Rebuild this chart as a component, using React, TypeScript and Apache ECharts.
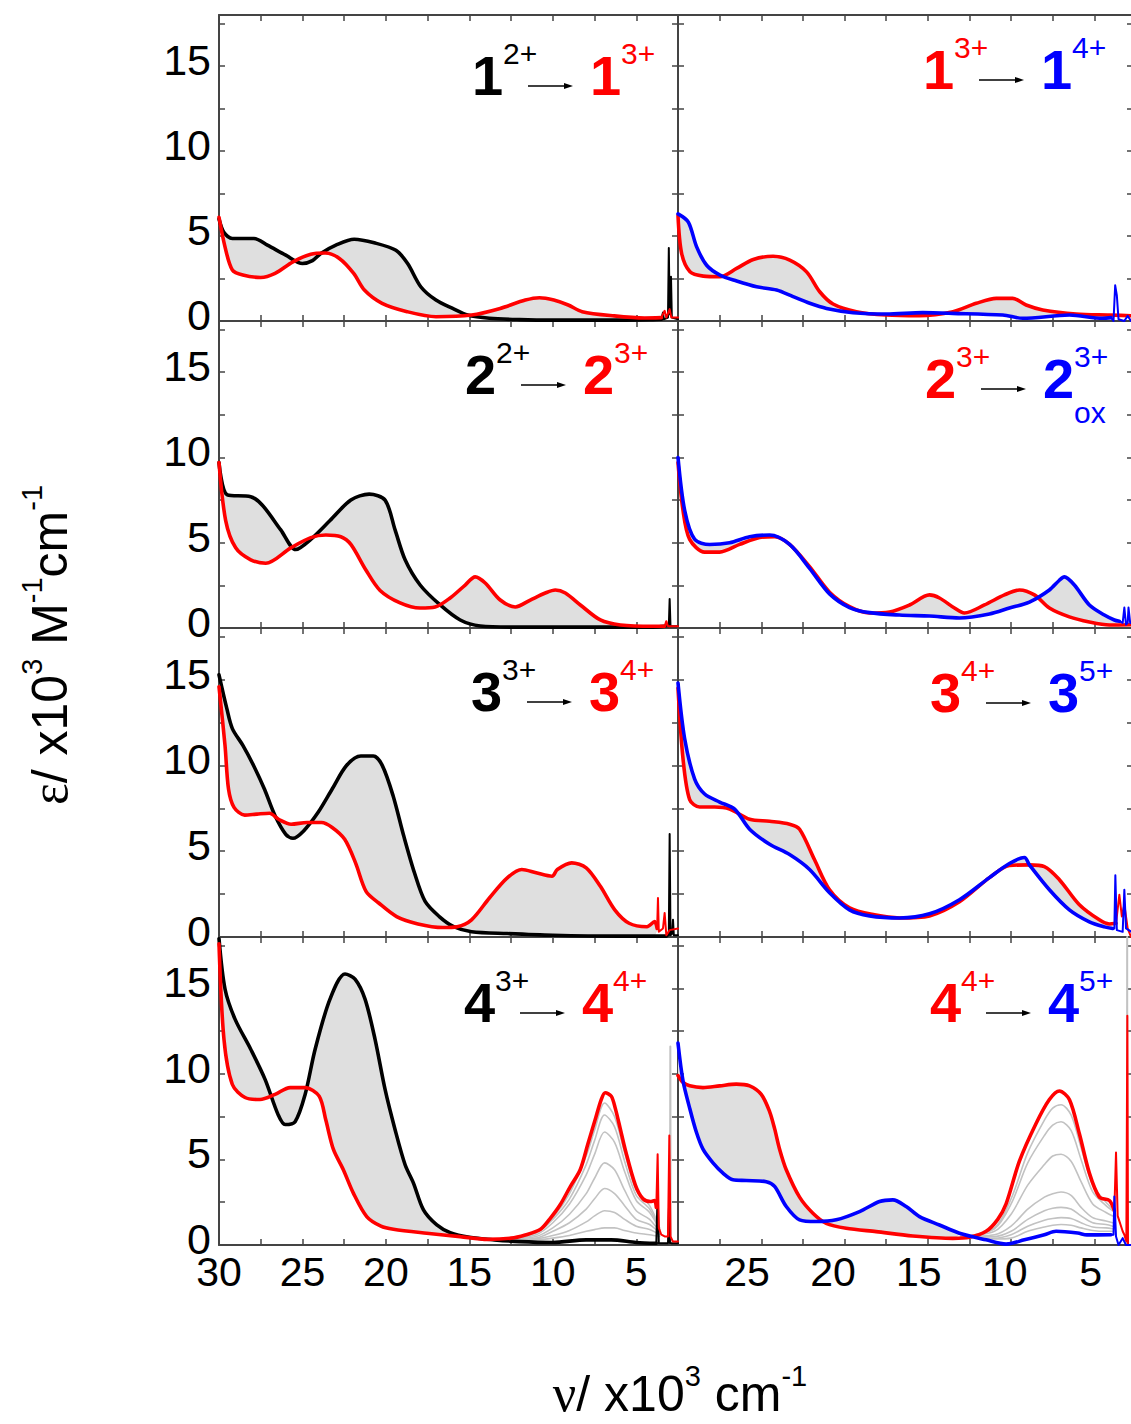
import { useEffect, useRef } from 'react';
import * as echarts from 'echarts';

type P = [number, number];

// ---------- Panel 1: 1(2+) black -> 1(3+) red ----------
const p1Start: P[] = [[30,6.0],[29.7,5.2],[29.2,4.85],[28.5,4.85],[27.9,4.85],[27.1,4.46],[26.0,3.87],[25.0,3.38],[24.4,3.55],[23.9,3.97],[23.0,4.46],[21.9,4.81],[20.7,4.6],[19.4,4.16],[18.7,3.38],[17.9,2.0],[17.0,1.23],[16.0,0.74],[15.1,0.35],[13.8,0.16],[12.0,0.08],[10.0,0.05],[8.0,0.05],[6.0,0.05],[4.0,0.08],[3.5,0.1]];
const p1StartTail: P[] = [[3.5,0.1],[3.4,0.5],[3.35,0.1],[3.1,0.2],[3.05,4.3],[3.0,0.4],[2.92,2.6],[2.87,0.2],[2.5,0.1]];
const p1End: P[] = [[30,6.1],[29.64,4.36],[29.2,3.0],[28.57,2.7],[27.5,2.56],[26.64,2.8],[25.57,3.48],[24.5,3.93],[23.64,4.0],[22.79,3.68],[21.93,2.8],[21.29,1.82],[20.23,1.04],[18.73,0.55],[17.0,0.25],[14.87,0.35],[13.15,0.74],[11.65,1.23],[10.8,1.37],[9.94,1.23],[9.08,0.94],[8.24,0.55],[6.32,0.3],[4.5,0.18],[3.5,0.2]];
const p1EndTail: P[] = [[3.5,0.2],[3.3,0.6],[3.2,0.2],[3.0,0.7],[2.9,0.2],[2.5,0.2]];

// ---------- Panel 2: 1(3+) red -> 1(4+) blue ----------
const p2Start: P[] = [[30,6.2],[29.78,3.97],[29.28,2.9],[28.48,2.64],[27.48,2.6],[26.48,3.09],[25.48,3.62],[24.29,3.81],[23.29,3.58],[22.28,2.89],[21.49,1.72],[20.69,1.0],[19.29,0.55],[17.49,0.35],[15.5,0.31],[13.49,0.55],[12.09,1.04],[10.89,1.33],[9.9,1.33],[9.1,0.94],[8.1,0.65],[6.1,0.41],[4.1,0.35],[2.5,0.3]];
const p2StartTail: P[] = [];
const p2End: P[] = [[30,6.3],[29.38,5.82],[28.88,4.36],[28.28,3.28],[27.48,2.7],[26.48,2.35],[25.28,2.01],[24.08,1.82],[23.09,1.43],[22.09,1.04],[21.08,0.74],[19.49,0.49],[17.49,0.41],[15.3,0.49],[13.5,0.45],[10.5,0.35],[9.3,0.16],[6.5,0.35],[4.5,0.16],[4.0,0.2]];
const p2EndTail: P[] = [[4.0,0.2],[3.85,0.0],[3.75,2.1],[3.65,1.5],[3.55,0.1],[3.2,0.0],[3.0,0.3],[2.8,0.0],[2.6,0.1]];

// ---------- Panel 3: 2(2+) black -> 2(3+) red ----------
const p3Start: P[] = [[30,9.7],[29.5,7.8],[28.1,7.7],[27.4,7.2],[26.3,5.75],[25.4,4.6],[24.5,5.2],[23.35,6.3],[22.1,7.5],[21.0,7.85],[20.05,7.5],[19.45,5.75],[18.85,4.0],[17.95,2.52],[16.75,1.35],[15.55,0.47],[14.35,0.12],[12.0,0.05],[8.0,0.05],[4.0,0.05],[3.3,0.1]];
const p3StartTail: P[] = [[3.3,0.1],[3.05,0.1],[3.0,1.7],[2.95,0.1],[2.5,0.1]];
const p3End: P[] = [[30,9.7],[29.6,6.3],[29.0,4.7],[28.1,4.0],[27.2,3.8],[25.7,4.7],[24.5,5.3],[23.6,5.45],[22.7,5.35],[22.1,4.9],[21.2,3.4],[20.35,2.2],[19.15,1.47],[17.95,1.17],[17.05,1.23],[16.15,1.76],[15.25,2.52],[14.65,3.0],[14.05,2.64],[13.15,1.64],[12.25,1.23],[11.35,1.64],[10.45,2.05],[9.85,2.23],[9.25,2.05],[8.35,1.35],[7.15,0.47],[5.95,0.18],[4.0,0.1],[3.3,0.1]];
const p3EndTail: P[] = [[3.3,0.1],[3.2,0.4],[3.1,0.1],[2.5,0.1]];

// ---------- Panel 4: 2(3+) red -> 2ox(3+) blue ----------
const p4Start: P[] = [[30,9.7],[29.7,6.9],[29.3,5.2],[28.4,4.45],[27.5,4.45],[26.3,4.9],[25.1,5.3],[24.2,5.35],[23.3,4.9],[22.1,3.6],[20.9,2.1],[19.7,1.25],[18.5,0.88],[17.3,0.94],[16.1,1.35],[14.9,1.94],[14.3,1.76],[13.4,1.17],[12.8,0.88],[11.6,1.35],[10.4,1.94],[9.5,2.23],[8.6,1.94],[7.7,1.17],[6.5,0.65],[5.3,0.35],[4.1,0.18],[2.5,0.2]];
const p4StartTail: P[] = [];
const p4End: P[] = [[30,10.0],[29.6,6.9],[29.0,5.2],[28.1,4.9],[26.9,5.0],[25.7,5.35],[24.5,5.45],[23.3,4.9],[22.1,3.5],[20.9,2.0],[19.7,1.2],[18.5,0.9],[16.7,0.76],[14.9,0.7],[13.1,0.59],[11.3,0.82],[10.1,1.17],[8.9,1.52],[7.7,2.23],[7.1,2.8],[6.8,3.0],[6.2,2.52],[5.3,1.35],[4.4,0.76],[3.8,0.47],[3.5,0.4]];
const p4EndTail: P[] = [[3.5,0.4],[3.3,0.3],[3.2,1.2],[3.1,0.2],[3.0,0.3],[2.95,1.2],[2.85,0.3],[2.6,0.2]];

// ---------- Panel 5: 3(3+) black -> 3(4+) red ----------
const p5Start: P[] = [[30,15.27],[29.53,13.3],[29.2,12.14],[28.57,11.16],[27.93,9.99],[27.28,8.62],[26.64,7.06],[26.0,5.98],[25.57,5.75],[24.93,6.18],[24.07,7.25],[23.22,8.62],[22.36,9.99],[21.5,10.54],[20.75,10.54],[20.22,10.0],[19.57,8.23],[18.93,5.88],[18.29,3.74],[17.65,2.07],[16.8,1.19],[15.94,0.6],[14.87,0.31],[12.73,0.2],[10.0,0.1],[6.0,0.05],[4.0,0.05],[3.2,0.05]];
const p5StartTail: P[] = [[3.2,0.05],[3.05,0.1],[3.0,6.0],[2.95,0.1],[2.85,0.2],[2.8,1.0],[2.75,0.1],[2.5,0.1]];
const p5End: P[] = [[30,14.58],[29.64,11.16],[29.43,8.62],[29.1,7.55],[28.46,7.1],[27.72,7.16],[26.97,7.21],[26.43,6.86],[25.68,6.57],[24.72,6.67],[23.86,6.67],[23.22,6.38],[22.47,5.69],[21.82,4.32],[21.19,2.66],[20.43,1.98],[19.36,1.19],[18.08,0.76],[16.58,0.55],[15.73,0.6],[14.87,1.0],[13.8,2.27],[12.73,3.44],[11.86,3.93],[11.0,3.74],[10.05,3.54],[9.73,3.93],[8.87,4.32],[8.0,4.03],[7.15,2.95],[6.29,1.58],[5.43,0.8],[4.36,0.6],[3.9,0.9],[3.75,0.5]];
const p5EndTail: P[] = [[3.75,0.5],[3.7,2.27],[3.65,0.3],[3.4,0.5],[3.3,1.4],[3.2,0.1],[3.0,0.4],[2.5,0.5]];

// ---------- Panel 6: 3(4+) red -> 3(5+) blue ----------
const p6Start: P[] = [[30,14.5],[29.7,10.4],[29.3,8.0],[28.7,7.57],[27.8,7.57],[26.9,7.45],[25.7,6.86],[24.5,6.74],[23.3,6.57],[22.7,6.28],[21.8,4.5],[20.9,2.75],[19.7,1.7],[18.2,1.29],[16.7,1.11],[14.9,1.23],[13.1,2.05],[11.3,3.46],[10.1,4.16],[8.9,4.2],[8.0,4.1],[7.1,3.34],[5.9,1.88],[4.7,1.0],[4.1,0.76],[3.7,0.8]];
const p6StartTail: P[] = [[3.7,0.8],[3.5,2.46],[3.35,1.2],[3.2,1.88],[3.0,0.5],[2.8,0.0],[2.6,0.0]];
const p6End: P[] = [[30,14.8],[29.6,11.55],[29.0,9.2],[28.4,8.33],[27.5,7.86],[26.6,7.45],[25.7,6.28],[24.5,5.4],[23.3,4.8],[22.1,3.93],[20.9,2.58],[19.7,1.58],[18.5,1.23],[16.7,1.11],[14.9,1.35],[13.1,2.17],[11.3,3.46],[10.1,4.28],[9.2,4.63],[8.9,4.2],[7.7,2.75],[6.5,1.58],[5.3,0.88],[4.4,0.59],[3.9,0.5]];
const p6EndTail: P[] = [[3.9,0.5],[3.8,0.5],[3.74,3.6],[3.65,0.4],[3.3,0.3],[3.2,2.75],[3.1,0.5],[2.6,0.2]];

// ---------- Panel 7: 4(3+) black -> 4(4+) red ----------
const p7Start: P[] = [[30,17.9],[29.64,14.96],[29.04,13.2],[28.1,11.44],[27.24,9.68],[26.46,7.62],[26.04,7.04],[25.44,7.21],[24.84,8.8],[24.24,11.44],[23.35,14.37],[22.45,15.84],[21.85,15.54],[21.25,14.37],[20.65,12.02],[20.05,9.09],[19.45,6.74],[18.85,4.69],[18.35,3.62],[17.75,2.05],[16.95,1.17],[16.15,0.72],[15.0,0.45],[13.5,0.3],[12.0,0.2],[10.0,0.15],[8.0,0.3],[6.5,0.3],[5.0,0.15],[3.8,0.1]];
const p7StartTail: P[] = [[3.8,0.1],[3.72,3.0],[3.65,0.1],[3.1,0.1],[3.04,2.2],[2.98,0.1],[2.5,0.1]];
const p7End: P[] = [[30,17.6],[29.7,12.0],[29.2,9.38],[28.44,8.62],[27.54,8.5],[26.64,8.8],[25.74,9.2],[24.84,9.2],[24.0,8.7],[23.6,7.3],[23.15,5.6],[22.55,4.4],[21.95,3.03],[21.15,1.66],[20.3,1.1],[19.55,0.92],[17.55,0.69],[15.55,0.49],[13.9,0.33],[12.5,0.4],[11.65,0.59],[10.76,0.9],[10.2,1.5],[9.56,2.35],[8.96,3.4],[8.36,4.4],[7.9,5.9],[7.46,7.33],[7.1,8.5],[6.86,8.9],[6.5,8.7],[6.26,8.0],[5.96,6.8],[5.66,5.57],[5.06,3.52],[4.6,2.7],[4.16,2.54],[3.9,2.6],[3.8,2.2]];
const p7EndTail: P[] = [[3.8,2.2],[3.72,5.3],[3.65,1.0],[3.5,0.6],[3.3,0.5],[3.1,0.5],[3.02,6.4],[2.95,0.5],[2.8,0.2],[2.5,0.2]];
const grayX7 = [13, 11, 10, 9, 8, 7.5, 6.9, 6.3, 5.7, 5.0, 4.2, 3.6];
const p7Gray1 = [0.35, 0.75, 1.6, 3.0, 5.2, 6.7, 8.3, 7.5, 5.4, 3.2, 2.3, 1.0];
const p7Gray2 = [0.35, 0.7, 1.5, 2.7, 4.7, 6.1, 7.6, 6.9, 4.9, 2.9, 2.1, 0.9];
const p7Gray3 = [0.3, 0.6, 1.3, 2.4, 4.1, 5.3, 6.6, 6.0, 4.3, 2.6, 1.9, 0.9];
const p7Gray4 = [0.3, 0.5, 1.0, 1.8, 3.0, 3.9, 4.8, 4.4, 3.2, 2.0, 1.5, 0.8];
const p7Gray5 = [0.3, 0.4, 0.8, 1.3, 2.1, 2.7, 3.3, 3.0, 2.3, 1.5, 1.2, 0.7];
const p7Gray6 = [0.25, 0.35, 0.55, 0.85, 1.35, 1.7, 2.0, 1.9, 1.5, 1.1, 0.9, 0.6];
const p7Gray7 = [0.25, 0.3, 0.4, 0.55, 0.8, 0.9, 1.0, 1.0, 0.85, 0.7, 0.6, 0.5];
const p7GraySpike: P[] = [[2.98,0.1],[2.96,11.6],[2.94,0.1]];

// ---------- Panel 8: 4(4+) red -> 4(5+) blue ----------
const p8Start: P[] = [[30,9.9],[29.7,9.5],[29.3,9.3],[28.5,9.2],[27.5,9.3],[26.5,9.4],[25.7,9.3],[25.0,8.8],[24.5,7.8],[24.2,6.8],[23.9,5.6],[23.5,4.4],[22.7,2.8],[21.9,1.86],[21.1,1.27],[19.9,0.98],[18.1,0.78],[15.9,0.53],[13.5,0.39],[12.5,0.45],[11.5,0.8],[10.8,1.5],[10.3,2.4],[9.5,4.9],[8.5,7.1],[7.7,8.5],[7.1,9.0],[6.5,8.5],[5.9,6.5],[5.3,4.2],[4.7,2.8],[4.1,2.6],[3.8,2.0]];
const p8StartTail: P[] = [[3.8,2.0],[3.7,5.4],[3.6,1.7],[3.3,0.8],[3.2,0.6],[3.08,0.2],[3.02,13.4],[2.98,0.0],[2.6,0.0]];
const p8End: P[] = [[30,11.8],[29.7,9.6],[29.3,8.0],[28.9,6.6],[28.5,5.6],[27.9,4.8],[27.3,4.2],[26.7,3.81],[25.9,3.77],[24.7,3.7],[24.2,3.42],[23.5,2.25],[22.7,1.47],[21.7,1.37],[20.5,1.47],[19.1,1.95],[17.9,2.54],[17.1,2.64],[16.3,2.25],[15.5,1.66],[14.3,1.17],[13.1,0.69],[11.5,0.3],[10.3,0.05],[9.2,0.3],[8.0,0.6],[7.3,0.8],[6.0,0.7],[5.45,0.59],[4.0,0.6]];
const p8EndTail: P[] = [[4.0,0.6],[3.85,0.6],[3.8,2.83],[3.7,0.5],[3.55,0.0],[3.3,0.4],[3.1,0.0],[2.6,0.0]];
const grayX8 = [13, 11, 10, 9, 8, 7.5, 7.0, 6.4, 5.8, 5.1, 4.3, 3.9];
const p8Gray1 = [0.45, 1.0, 2.7, 5.4, 7.3, 8.0, 8.2, 7.6, 5.7, 3.5, 2.5, 2.1];
const p8Gray2 = [0.45, 0.95, 2.4, 4.8, 6.4, 7.0, 7.2, 6.7, 5.0, 3.1, 2.3, 2.0];
const p8Gray3 = [0.5, 0.8, 1.8, 3.5, 4.7, 5.2, 5.3, 4.9, 3.7, 2.4, 1.9, 1.7];
const p8Gray4 = [0.5, 0.6, 1.1, 2.1, 2.8, 3.0, 3.1, 2.9, 2.2, 1.6, 1.4, 1.3];
const p8Gray5 = [0.55, 0.5, 0.8, 1.5, 2.0, 2.15, 2.2, 2.1, 1.7, 1.3, 1.2, 1.1];
const p8Gray6 = [0.55, 0.4, 0.6, 1.1, 1.45, 1.55, 1.6, 1.55, 1.3, 1.05, 1.0, 0.95];
const p8Gray7 = [0.6, 0.35, 0.4, 0.8, 1.05, 1.15, 1.2, 1.15, 1.0, 0.85, 0.8, 0.8];
const p8GraySpike: P[] = [[3.04,0],[3.03,18],[3.02,0]];

// ---------- axes ----------
const X_MIN = 2.5, X_MAX = 30, X_STEP = 2.5;
const Y_MIN = 0, Y_MAX = 18, Y_STEP = 2.5;
const rightLabelValues = [5, 10, 15, 20, 25];

const BLACK = '#000000', RED = '#ff0000', BLUE = '#0000ff';
const GRAY = '#c2c2c2', BAND = '#dfdfdf', AXIS = '#444444';
const SANS = '"Liberation Sans", Arial, Helvetica, sans-serif';
const SERIF = '"Liberation Serif", "Times New Roman", serif';

const W = 1131, H = 1424;
const ROW_TOP = [15, 321, 628, 937];
const ROW_H = [306, 307, 309, 308];
const COL_LEFT = [219, 678];
const COL_W = [459, 458];

interface Panel {
  start: P[]; startTail: P[]; startColor: string;
  end: P[]; endTail: P[]; endColor: string;
  cut: number;
  grayX?: number[]; grays?: number[][]; graySpike?: P[];
}

const panels: Panel[] = [
  { start: p1Start, startTail: p1StartTail, startColor: BLACK, end: p1End, endTail: p1EndTail, endColor: RED, cut: 3.5 },
  { start: p2Start, startTail: p2StartTail, startColor: RED, end: p2End, endTail: p2EndTail, endColor: BLUE, cut: 4.0 },
  { start: p3Start, startTail: p3StartTail, startColor: BLACK, end: p3End, endTail: p3EndTail, endColor: RED, cut: 3.3 },
  { start: p4Start, startTail: p4StartTail, startColor: RED, end: p4End, endTail: p4EndTail, endColor: BLUE, cut: 3.5 },
  { start: p5Start, startTail: p5StartTail, startColor: BLACK, end: p5End, endTail: p5EndTail, endColor: RED, cut: 3.75 },
  { start: p6Start, startTail: p6StartTail, startColor: RED, end: p6End, endTail: p6EndTail, endColor: BLUE, cut: 3.9 },
  { start: p7Start, startTail: p7StartTail, startColor: BLACK, end: p7End, endTail: p7EndTail, endColor: RED, cut: 12.5,
    grayX: grayX7, grays: [p7Gray1, p7Gray2, p7Gray3, p7Gray4, p7Gray5, p7Gray6, p7Gray7], graySpike: p7GraySpike },
  { start: p8Start, startTail: p8StartTail, startColor: RED, end: p8End, endTail: p8EndTail, endColor: BLUE, cut: 13,
    grayX: grayX8, grays: [p8Gray1, p8Gray2, p8Gray3, p8Gray4, p8Gray5, p8Gray6, p8Gray7], graySpike: p8GraySpike },
];

interface LabelSpec { L: number; cy: number; n1: string; s1: string; c1: string; n2: string; s2: string; c2: string; sub: string; }
const labelSpecs: LabelSpec[] = [
  { L: 472, cy: 75, n1: '1', s1: '2+', c1: BLACK, n2: '1', s2: '3+', c2: RED, sub: '' },
  { L: 923, cy: 69, n1: '1', s1: '3+', c1: RED, n2: '1', s2: '4+', c2: BLUE, sub: '' },
  { L: 465, cy: 374, n1: '2', s1: '2+', c1: BLACK, n2: '2', s2: '3+', c2: RED, sub: '' },
  { L: 925, cy: 378, n1: '2', s1: '3+', c1: RED, n2: '2', s2: '3+', c2: BLUE, sub: 'ox' },
  { L: 471, cy: 691, n1: '3', s1: '3+', c1: BLACK, n2: '3', s2: '4+', c2: RED, sub: '' },
  { L: 930, cy: 692, n1: '3', s1: '4+', c1: RED, n2: '3', s2: '5+', c2: BLUE, sub: '' },
  { L: 464, cy: 1002, n1: '4', s1: '3+', c1: BLACK, n2: '4', s2: '4+', c2: RED, sub: '' },
  { L: 930, cy: 1002, n1: '4', s1: '4+', c1: RED, n2: '4', s2: '5+', c2: BLUE, sub: '' },
];

function txt(x: number, y: number, text: string, font: string, fill: string, align = 'left') {
  return {
    type: 'text', x, y, silent: true, z: 100,
    style: { text, font, fill, align, verticalAlign: 'middle', textAlign: align, textVerticalAlign: 'middle' },
  };
}

function buildOption() {
  const grid: any[] = [];
  const xAxis: any[] = [];
  const yAxis: any[] = [];
  const series: any[] = [];

  const tickFmt = (v: number) => (Math.abs(v % 5) < 1e-6 ? String(v) : '');

  for (let g = 0; g < 8; g++) {
    const row = Math.floor(g / 2), col = g % 2;
    grid.push({ left: COL_LEFT[col], top: ROW_TOP[row], width: COL_W[col], height: ROW_H[row], containLabel: false, outerBoundsMode: 'none' });
    const baseX = {
      gridIndex: g, type: 'value', min: X_MIN, max: X_MAX, interval: X_STEP, inverse: true,
      axisLine: { show: true, onZero: false, lineStyle: { color: AXIS, width: 2 } },
      axisTick: { show: true, inside: true, length: 6, lineStyle: { color: AXIS, width: 1.5 } },
      splitLine: { show: false }, minorTick: { show: false }, minorSplitLine: { show: false },
    };
    xAxis.push({
      ...baseX, position: 'bottom',
      axisLabel: { show: row === 3 && col === 0, margin: 6, fontSize: 41, fontFamily: SANS, color: '#000', formatter: tickFmt, showMinLabel: true, showMaxLabel: true },
    });
    xAxis.push({ ...baseX, position: 'top', axisLabel: { show: false } });
    const baseY = {
      gridIndex: g, type: 'value', min: Y_MIN, max: Y_MAX, interval: Y_STEP,
      axisLine: { show: true, onZero: false, lineStyle: { color: AXIS, width: 2 } },
      splitLine: { show: false },
    };
    yAxis.push({
      ...baseY, position: 'left',
      axisTick: { show: true, inside: true, length: 6, lineStyle: { color: AXIS, width: 1.5 } },
      axisLabel: { show: col === 0, margin: 8, fontSize: 43, fontFamily: SANS, color: '#000', formatter: tickFmt, verticalAlign: 'bottom', lineHeight: 12 },
    });
    yAxis.push({
      ...baseY, position: 'right',
      axisTick: { show: true, inside: true, length: col === 1 ? 9 : 6, lineStyle: { color: AXIS, width: 1.5 } },
      axisLabel: { show: false },
    });
  }
  // bottom-right tick labels (placed slightly off the ticks as in the original figure)
  xAxis.push({
    gridIndex: 7, type: 'value', position: 'bottom', min: 2.36, max: 29.02, inverse: true,
    axisLine: { show: false, onZero: false }, axisTick: { show: false }, splitLine: { show: false },
    axisLabel: { show: true, customValues: rightLabelValues, margin: 6, fontSize: 41, fontFamily: SANS, color: '#000' },
  });

  const lineS = (g: number, data: P[], color: string, width: number, smooth: number | boolean, z: number) => ({
    type: 'line', xAxisIndex: 2 * g, yAxisIndex: 2 * g, data, showSymbol: false, symbol: 'none',
    smooth, z, silent: true, clip: true, animation: false,
    lineStyle: { color, width, join: 'round', cap: 'round' }, emphasis: { disabled: true },
  });

  panels.forEach((p, g) => {
    const pts = p.start.filter((q) => q[0] >= p.cut).concat(p.end.filter((q) => q[0] >= p.cut).slice().reverse());
    series.push({
      type: 'custom', xAxisIndex: 2 * g, yAxisIndex: 2 * g, z: 1, silent: true, clip: true,
      data: [[16, 1]],
      renderItem: (_params: any, api: any) => ({
        type: 'polygon',
        shape: { points: pts.map((q) => api.coord(q)), smooth: 0.25 },
        style: { fill: BAND, stroke: '#d2d2d2', lineWidth: 0.8 },
      }),
    });
    if (p.grayX && p.grays) {
      const gx = p.grayX;
      p.grays.forEach((gy) => {
        series.push(lineS(g, gx.map((x, i) => [x, gy[i]] as P), GRAY, 1.6, 0.3, 2));
      });
    }
    if (p.graySpike) series.push(lineS(g, p.graySpike, GRAY, 2, false, 2));
    series.push(lineS(g, p.start, p.startColor, 3.6, 0.3, 3));
    if (p.startTail.length) series.push(lineS(g, p.startTail, p.startColor, 2, false, 3));
    series.push(lineS(g, p.end, p.endColor, 3.6, 0.3, 4));
    if (p.endTail.length) series.push(lineS(g, p.endTail, p.endColor, 2, false, 4));
  });

  const graphic: any[] = [];
  labelSpecs.forEach((s) => {
    const bold = `bold 56px ${SANS}`;
    const sup = `30px ${SANS}`;
    graphic.push(txt(s.L, s.cy, s.n1, bold, s.c1));
    graphic.push(txt(s.L + 31, s.cy - 22, s.s1, sup, s.c1));
    const ay = s.cy + 11;
    graphic.push({ type: 'line', silent: true, z: 100, shape: { x1: s.L + 56, y1: ay, x2: s.L + 95, y2: ay }, style: { stroke: '#000', lineWidth: 1.5 } });
    graphic.push({ type: 'polygon', silent: true, z: 100, shape: { points: [[s.L + 92, ay - 3], [s.L + 101, ay], [s.L + 92, ay + 3]] }, style: { fill: '#000' } });
    graphic.push(txt(s.L + 118, s.cy, s.n2, bold, s.c2));
    graphic.push(txt(s.L + 149, s.cy - 22, s.s2, sup, s.c2));
    if (s.sub) graphic.push(txt(s.L + 149, s.cy + 34, s.sub, sup, s.c2));
  });

  const rich = {
    g: { fontFamily: SERIF, fontSize: 52, lineHeight: 58, verticalAlign: 'bottom', fill: '#000' },
    n: { fontFamily: SANS, fontSize: 50, lineHeight: 58, verticalAlign: 'bottom', fill: '#000' },
    s: { fontFamily: SANS, fontSize: 29, lineHeight: 29, verticalAlign: 'top', fill: '#000' },
  };
  graphic.push({
    type: 'text', x: 680, y: 1390, silent: true, z: 100,
    style: { text: '{g|ν}{n|/ x10}{s|3}{n| cm}{s|-1}', align: 'center', verticalAlign: 'middle', textAlign: 'center', textVerticalAlign: 'middle', rich },
  });
  graphic.push({
    type: 'text', x: 46, y: 645, rotation: Math.PI / 2, silent: true, z: 100,
    style: { text: '{g|ε}{n|/ x10}{s|3}{n| M}{s|-1}{n|cm}{s|-1}', align: 'center', verticalAlign: 'middle', textAlign: 'center', textVerticalAlign: 'middle', rich },
  });

  return {
    animation: false,
    backgroundColor: '#ffffff',
    grid, xAxis, yAxis, series, graphic,
    tooltip: { show: false },
  };
}

export default function App() {
  const ref = useRef<HTMLDivElement>(null);
  useEffect(() => {
    if (!ref.current) return;
    const chart = echarts.init(ref.current, undefined, { renderer: 'svg', width: W, height: H });
    chart.setOption(buildOption() as any);
    return () => chart.dispose();
  }, []);
  return <div ref={ref} style={{ position: 'absolute', left: 0, top: 0, width: W, height: H, background: '#fff' }} />;
}
